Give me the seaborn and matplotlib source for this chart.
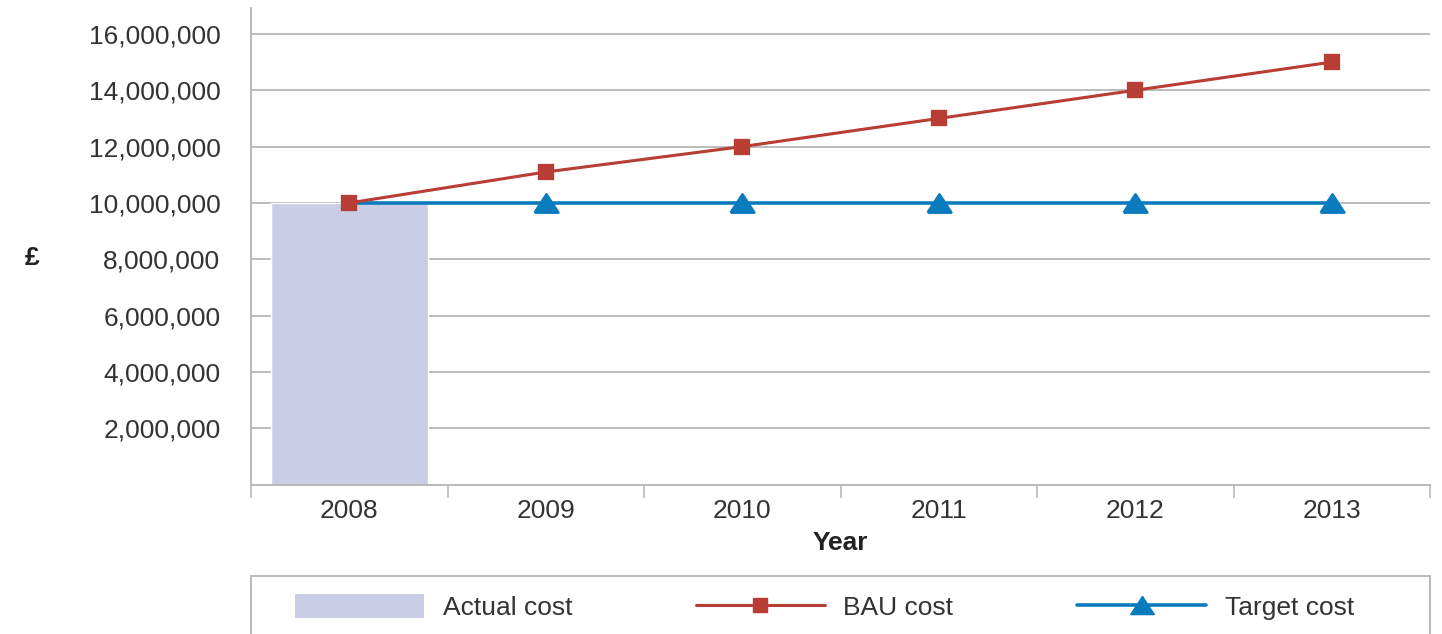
import numpy as np
import pandas as pd
import matplotlib
matplotlib.use("Agg")
import matplotlib.pyplot as plt
from matplotlib.patches import Patch, Rectangle
from matplotlib.lines import Line2D
from matplotlib.ticker import FixedLocator, FuncFormatter
import seaborn as sns

# --- data -------------------------------------------------------------
years = ["2008", "2009", "2010", "2011", "2012", "2013"]
actual_years = ["2008"]
actual_cost = [10_000_000]
bau_cost = [10_000_000, 11_100_000, 12_000_000, 13_000_000, 14_000_000, 15_000_000]
target_cost = [10_000_000, 10_000_000, 10_000_000, 10_000_000, 10_000_000, 10_000_000]
y_ticks = [2_000_000, 4_000_000, 6_000_000, 8_000_000, 10_000_000,
           12_000_000, 14_000_000, 16_000_000]
series_labels = ["Actual cost", "BAU cost", "Target cost"]

# --- style ------------------------------------------------------------
sns.set_theme(style="white")
plt.rcParams["font.family"] = ["Liberation Sans", "DejaVu Sans"]

BAR_COLOR = "#cbcde7"
BAU_COLOR = "#b83d34"
TARGET_COLOR = "#0a7bbd"
GRID_COLOR = "#a9a9a9"
SPINE_COLOR = "#b3b3b3"
TEXT_COLOR = "#333333"
FS = 19

fig = plt.figure(figsize=(14.42, 6.34), dpi=100)
ax = fig.add_axes([251 / 1442, 1 - 484.7 / 634, (1430 - 251) / 1442, (484.7 - 8) / 634])

actual_df = pd.DataFrame({"year": actual_years, "cost": actual_cost})
lines_df = pd.DataFrame({"year": years, "bau": bau_cost, "target": target_cost})

# actual cost bar
sns.barplot(data=actual_df, x="year", y="cost", order=years, color=BAR_COLOR,
            saturation=1, width=0.8, ax=ax, zorder=2)

# triangle marker, wider than tall
tri = [(-1.3, -1.0), (1.3, -1.0), (0.0, 1.0), (-1.3, -1.0)]

# target line (no marker at the 2008 baseline)
sns.pointplot(data=lines_df, x="year", y="target", order=years, color=TARGET_COLOR,
              marker=tri, markersize=17, linewidth=2.6, errorbar=None,
              markevery=[1, 2, 3, 4, 5], ax=ax, zorder=3)

# BAU line
sns.pointplot(data=lines_df, x="year", y="bau", order=years, color=BAU_COLOR,
              marker="s", markersize=10, linewidth=2.2, errorbar=None,
              ax=ax, zorder=4)

# --- axes -------------------------------------------------------------
ax.set_xlim(-0.5, len(years) - 0.5)
ax.set_ylim(0, 16_920_000)

ax.yaxis.set_major_locator(FixedLocator(y_ticks))
ax.yaxis.set_major_formatter(FuncFormatter(lambda v, p: f"{int(v):,}"))
ax.grid(axis="y", color=GRID_COLOR, linewidth=1.1, zorder=0)
ax.set_axisbelow(True)

ax.set_xticks(range(len(years)))
ax.set_xticklabels(years)
ax.set_xticks(np.arange(-0.5, len(years), 1.0), minor=True)

ax.tick_params(axis="y", length=0, pad=22, labelsize=FS, labelcolor=TEXT_COLOR)
ax.tick_params(axis="x", which="major", length=0, pad=10, labelsize=FS,
               labelcolor=TEXT_COLOR)
ax.tick_params(axis="x", which="minor", bottom=True, length=9, width=1.1,
               color=SPINE_COLOR, direction="out")

for side in ("top", "right"):
    ax.spines[side].set_visible(False)
for side in ("left", "bottom"):
    ax.spines[side].set_color(SPINE_COLOR)
    ax.spines[side].set_linewidth(1.3)

ax.set_xlabel("Year", fontsize=FS, fontweight="bold", color="#222222", labelpad=6)
ax.set_ylabel("£", fontsize=FS, fontweight="bold", color="#222222", rotation=0,
              va="center", ha="center")
ax.yaxis.set_label_coords(-0.186, 0.475)

# --- legend -----------------------------------------------------------
# outer box running the full plot width
ax.add_patch(Rectangle((0.0, -0.36), 1.0, 0.36 - 0.1915, transform=ax.transAxes,
                       fill=False, edgecolor=SPINE_COLOR, linewidth=1.3,
                       clip_on=False))

handles = [
    Patch(facecolor=BAR_COLOR, edgecolor="none"),
    Line2D([], [], color=BAU_COLOR, linewidth=2.2, marker="s", markersize=10),
    Line2D([], [], color=TARGET_COLOR, linewidth=2.6, marker=tri, markersize=17),
]
leg = ax.legend(handles, series_labels, loc="center left", ncol=3, mode="expand",
                bbox_to_anchor=(0.0373, -0.2566, 0.8982, 0.0), borderaxespad=0,
                fontsize=FS, handlelength=4.9, handleheight=1.0,
                handletextpad=0.7, borderpad=0.0, frameon=False,
                labelcolor=TEXT_COLOR)

fig.savefig("out.png", dpi=100)
